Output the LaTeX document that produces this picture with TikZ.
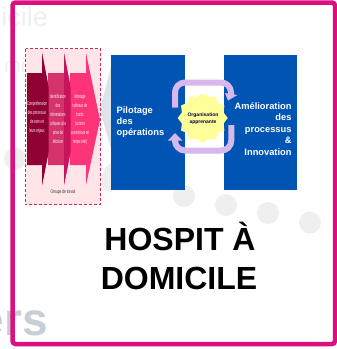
\documentclass[tikz,border=0pt]{standalone}
\usepackage{fontspec}
\setmainfont{Liberation Sans}
\usetikzlibrary{shapes.geometric}
\definecolor{frameC}{HTML}{DB0F80}
\definecolor{panelC}{HTML}{FFE4E8}
\definecolor{aOne}{HTML}{8F0035}
\definecolor{aTwo}{HTML}{D6336C}
\definecolor{aThree}{HTML}{FF3377}
\definecolor{aWedge}{HTML}{C8145A}
\definecolor{blueC}{HTML}{0054B4}
\definecolor{loopC}{HTML}{D8B8EC}
\definecolor{starC}{HTML}{FFFF99}
\definecolor{ghost}{HTML}{EFEFEF}
\definecolor{ghostB}{HTML}{C8CED6}
\definecolor{ghostC}{HTML}{DDE3EA}
\tikzset{
  bluebox/.style={fill=blueC,draw=none},
  bluetext/.style={text=white,font=\bfseries\fontsize{9.3}{11.4}\selectfont,inner sep=0pt},
  tiny/.style={text=white,align=center,inner sep=0pt,font=\fontsize{5.4}{9}\selectfont,xscale=.52},
  loopline/.style={draw=loopC,line width=6pt,rounded corners=10pt},
  dot/.style={circle,fill=ghost,draw=none,minimum size=22pt,inner sep=0pt},
  titletext/.style={font=\bfseries\fontsize{32}{39}\selectfont,inner sep=0pt}
}
\begin{document}
\begin{tikzpicture}[x=1pt,y=-1pt]
\useasboundingbox (0,0) rectangle (337,349);
\fill[white] (0,0) rectangle (337,349);
% ghost background
\node[anchor=base east,text=ghost,font=\fontsize{27}{27}\selectfont,inner sep=0pt] (g1) at (48,26) {icile};
\node[anchor=base east,text=ghost,font=\fontsize{20}{20}\selectfont,inner sep=0pt] (g2) at (25.5,72) {mi};
\node[dot] (d0) at (15,158.5) {};
\node[dot] (d1) at (184,196) {};
\node[dot] (d2) at (226,205) {};
\node[dot] (d3) at (268,213) {};
\node[dot] (d4) at (310,222.5) {};
\fill[ghostC] (112,62) -- (100,110) -- (112,152) -- cycle;
\fill[ghost] (112,163) .. controls (104,165) and (100,175) .. (103,190) -- (112,192) -- cycle;
\node[anchor=base east,text=ghostB,font=\bfseries\fontsize{46}{46}\selectfont,inner sep=0pt] (g3) at (48,335) {ers};
% frame
\draw[frameC,line width=4.5pt,rounded corners=3pt] (12.5,2.5) rectangle (335,344);
% left panel
\draw[fill=panelC,draw=aThree!80!black,densely dashed,line width=.7pt] (25.5,48.5) rectangle (100.5,204.5);
\fill[aOne] (27,73) -- (42,73) -- (42,53) -- (55,120) -- (42,185) -- (42,165) -- (27,165) -- cycle;
\fill[aTwo] (48,73) -- (64,73) -- (64,53) -- (77,120) -- (64,185) -- (64,165) -- (48,165) -- cycle;
\fill[aOne] (42,53) -- (48.5,87) -- (48.5,152) -- (42,185) -- cycle;
\fill[aThree] (70,73) -- (86,73) -- (86,53) -- (100,120) -- (86,185) -- (86,165) -- (70,165) -- cycle;
\fill[aWedge] (64,53) -- (70.5,87) -- (70.5,152) -- (64,185) -- cycle;
\node[tiny] (t1) at (37,118) {Compréhension\\des processus\\de soins et\\leurs enjeux};
\node[tiny] (t2) at (58,119.5) {Identification\\des\\informations\\critiques à la\\prise de\\décision};
\node[tiny] (t3) at (80,119.5) {Montage\\tableaux de\\bords\\(actions\\correctrices en\\temps réel)};
\node[text=black!80,font=\fontsize{5.2}{6}\selectfont,xscale=.62,inner sep=0pt] (t4) at (63,192) {Groupe de travail};
% blue panels
\fill[bluebox] (111,55) rectangle (184.5,190);
\fill[bluebox] (223.5,55) rectangle (296.5,190);
\node[bluetext,anchor=west,align=left] (pil) at (116.5,122) {Pilotage\\des\\opérations};
\node[bluetext,anchor=east,align=right] (ame) at (291.7,129) {Amélioration\\des\\processus\\\&\\Innovation};
% loops
\draw[loopline] (175,107.5) -- (175,82.5) -- (231,82.5) -- (231,95);
\fill[loopC] (225,93) -- (237.5,95) -- (228,100.5) -- cycle;
\draw[loopline] (231.3,125) -- (231.3,150.5) -- (175,150.5) -- (175,139);
\fill[loopC] (182.5,140.5) -- (175,133) -- (168,140.5) -- cycle;
% star
\node[star,star points=12,star point ratio=1.16,minimum size=50pt,inner sep=0pt,fill=starC,draw=none] (st) at (202.7,118) {};
\node[align=center,text=black!75!blue,font=\bfseries\fontsize{5}{7}\selectfont,inner sep=0pt] (stx) at (203,118.5) {Organisation\\apprenante};
% title
\node[titletext,anchor=base] (h1) at (180,250) {HOSPIT À};
\node[titletext,anchor=base] (h2) at (179,289) {DOMICILE};
\end{tikzpicture}
\end{document}
